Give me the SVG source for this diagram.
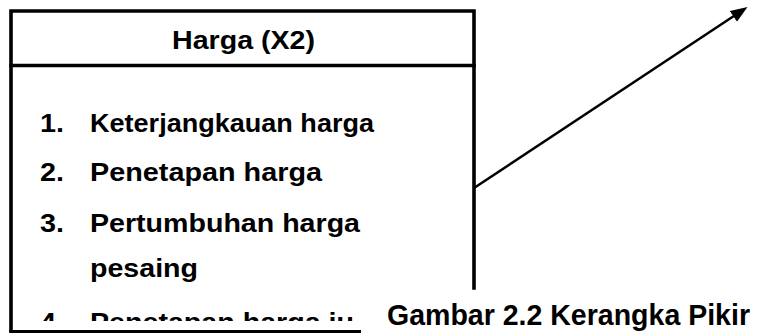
<svg xmlns="http://www.w3.org/2000/svg" width="759" height="336" viewBox="0 0 759 336">
  <style>
    .frame { fill: none; stroke: #000; stroke-width: 3.6; stroke-linecap: square; }
    .t { font-family: "Liberation Sans", Arial, sans-serif; font-weight: bold; font-size: 25px; fill: #000; }
    .cap { font-family: "Liberation Sans", Arial, sans-serif; font-weight: bold; font-size: 29.5px; fill: #000; }
    .conn { fill: none; stroke: #000; stroke-width: 2.5; }
  </style>
  <defs>
    <marker id="arrow" markerUnits="userSpaceOnUse" markerWidth="18" markerHeight="14" refX="2" refY="6.5" orient="auto">
      <path d="M0,0 L17,6.5 L0,13 Z" fill="#000"/>
    </marker>
    <clipPath id="clip4">
      <rect x="0" y="0" width="361" height="321"/>
    </clipPath>
  </defs>
  <rect width="759" height="336" fill="#fff"/>

  <g id="node-harga">
    <path class="frame" d="M11,330 L11,11 L474,11 L474,288"/>
    <path class="frame" d="M11,65.5 L474,65.5"/>
    <path d="M9.2,331.5 L361,331.5" fill="none" stroke="#000" stroke-width="3"/>
    <text class="t" x="172" y="48.5" textLength="143" lengthAdjust="spacingAndGlyphs">Harga (X2)</text>
    <text class="t" x="40" y="132" textLength="24" lengthAdjust="spacingAndGlyphs">1.</text>
    <text class="t" x="90" y="132" textLength="284" lengthAdjust="spacingAndGlyphs">Keterjangkauan harga</text>
    <text class="t" x="40" y="180.5" textLength="24" lengthAdjust="spacingAndGlyphs">2.</text>
    <text class="t" x="90" y="180.5" textLength="232" lengthAdjust="spacingAndGlyphs">Penetapan harga</text>
    <text class="t" x="40" y="232" textLength="24" lengthAdjust="spacingAndGlyphs">3.</text>
    <text class="t" x="90" y="232" textLength="270" lengthAdjust="spacingAndGlyphs">Pertumbuhan harga</text>
    <text class="t" x="90" y="276.5" textLength="108" lengthAdjust="spacingAndGlyphs">pesaing</text>
    <g clip-path="url(#clip4)">
      <text class="t" x="40" y="331" textLength="24" lengthAdjust="spacingAndGlyphs">4.</text>
      <text class="t" x="90" y="331" textLength="264" lengthAdjust="spacingAndGlyphs">Penetapan harga ju</text>
    </g>
  </g>

  <g id="connectors">
    <line class="conn" x1="474" y1="188" x2="735" y2="15.3" marker-end="url(#arrow)"/>
  </g>

  <g id="caption">
    <text class="cap" x="387" y="324.5" textLength="363" lengthAdjust="spacingAndGlyphs">Gambar 2.2 Kerangka Pikir</text>
  </g>
</svg>
